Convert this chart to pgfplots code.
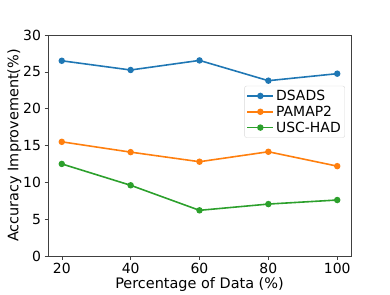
\documentclass[border=0pt]{standalone}
\usepackage{pgfplots}
\pgfplotsset{compat=1.18}
\usepackage{fontspec}
\setmainfont{DejaVu Sans}
\definecolor{c1}{HTML}{1F77B4}
\definecolor{c2}{HTML}{FF7F0E}
\definecolor{c3}{HTML}{2CA02C}
\begin{document}
\begin{tikzpicture}
\begin{axis}[
  scale only axis,
  width=303bp, height=221bp,
  xmin=16, xmax=104, ymin=0, ymax=30,
  xtick={20,40,60,80,100}, ytick={0,5,10,15,20,25,30},
  /pgf/number format/assume math mode=true,
  tick label style={font=\fontsize{14}{16}\selectfont},
  label style={font=\fontsize{14.5}{17}\selectfont},
  xlabel={Percentage of Data (\%)},
  ylabel={Accuracy Improvement(\%)},
  xlabel style={yshift=3bp},
  ylabel style={yshift=-5bp},
  tick align=outside, tick pos=left,
  major tick length=3.5bp,
  axis line style={black!75},
  every tick/.style={black!75},
  legend style={at={(0.98,0.77)}, anchor=north east, font=\fontsize{14}{16}\selectfont, draw=black!15, rounded corners=2pt, row sep=0pt, inner sep=2pt},
  legend cell align=left,
  legend image code/.code={\draw[mark repeat=2,mark phase=2,#1] plot coordinates {(0bp,0bp) (13bp,0bp) (26bp,0bp)};},
]
\addplot[c1, line width=1.6pt, mark=*, mark size=2.4pt, mark options={fill=c1, draw=none}] coordinates {(20,26.5) (40,25.25) (60,26.55) (80,23.8) (100,24.75)};
\addplot[c2, line width=1.6pt, mark=*, mark size=2.4pt, mark options={fill=c2, draw=none}] coordinates {(20,15.5) (40,14.1) (60,12.8) (80,14.15) (100,12.2)};
\addplot[c3, line width=1.6pt, mark=*, mark size=2.4pt, mark options={fill=c3, draw=none}] coordinates {(20,12.5) (40,9.6) (60,6.2) (80,7.05) (100,7.6)};
\addplot[draw=none, forget plot] coordinates {(20,12.5)};
\legend{DSADS, PAMAP2, USC-HAD}
\end{axis}
\path[use as bounding box] ([xshift=-48bp,yshift=-37bp]current axis.south west) rectangle ([xshift=39bp,yshift=35bp]current axis.north east);
\end{tikzpicture}
\end{document}
